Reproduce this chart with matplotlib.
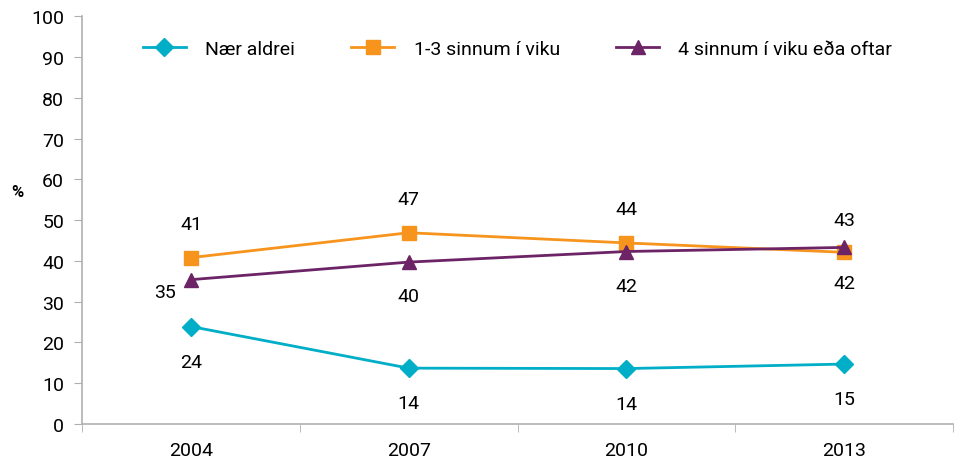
import matplotlib.pyplot as plt
import numpy as np

plt.rcParams['font.family'] = ['Roboto', 'DejaVu Sans']

# Data
years = ['2004', '2007', '2010', '2013']
naer_aldrei = [24, 14, 14, 15]
naer_pos = [23.9, 13.7, 13.6, 14.7]
sinnum_1_3 = [41, 47, 44, 42]
sinnum_pos = [40.8, 46.9, 44.4, 42.1]
oftar_4 = [35, 40, 42, 43]
oftar_pos = [35.4, 39.7, 42.3, 43.3]

teal = '#00AEC7'
orange = '#F7941D'
purple = '#6C2466'

fig = plt.figure(figsize=(9.55, 4.64), dpi=100)
ax = fig.add_axes([0.086, 0.084, 0.912, 0.879])

x = np.arange(len(years))
ax.plot(x, naer_pos, color=teal, lw=2, marker='D', ms=9, label='Nær aldrei')
ax.plot(x, sinnum_pos, color=orange, lw=2, marker='s', ms=10, label='1-3 sinnum í viku')
ax.plot(x, oftar_pos, color=purple, lw=2, marker='^', ms=10, label='4 sinnum í viku eða oftar')

fs = 14
# data labels
for i, v in enumerate(naer_aldrei):
    ax.annotate(str(v), (x[i], naer_pos[i]), xytext=(0, -35), textcoords='offset pixels',
                ha='center', va='center', fontsize=fs)
for i, v in enumerate(sinnum_1_3):
    dy = -31 if i == 3 else 34
    ax.annotate(str(v), (x[i], sinnum_pos[i]), xytext=(0, dy), textcoords='offset pixels',
                ha='center', va='center', fontsize=fs)
for i, v in enumerate(oftar_4):
    if i == 0:
        off = (-26, -12)
    elif i == 3:
        off = (0, 27)
    else:
        off = (0, -34)
    ax.annotate(str(v), (x[i], oftar_pos[i]), xytext=off, textcoords='offset pixels',
                ha='center', va='center', fontsize=fs)

ax.set_xlim(-0.5, 3.5)
ax.set_ylim(0, 100)
ax.set_yticks(range(0, 101, 10))
ax.set_xticks(x)
ax.set_xticklabels(years)
ax.set_xticks(np.arange(-0.5, 4, 1), minor=True)
ax.tick_params(axis='x', which='major', length=0, pad=12, labelsize=fs)
ax.tick_params(axis='x', which='minor', length=6, color='#B0B0B0', direction='out')
ax.tick_params(axis='y', length=6, color='#B0B0B0', labelsize=fs, pad=7)

for s in ['top', 'right']:
    ax.spines[s].set_visible(False)
for s in ['left', 'bottom']:
    ax.spines[s].set_color('#B0B0B0')
    ax.spines[s].set_linewidth(1.2)

fig.text(0.018, 0.585, '%', fontsize=12, fontweight='bold', ha='center', va='center')

ax.legend(loc='upper center', bbox_to_anchor=(0.5, 0.985), ncol=3, frameon=False,
          fontsize=fs, handlelength=2.2, columnspacing=2.9, handletextpad=1.0)

fig.savefig('out.png', dpi=100)
